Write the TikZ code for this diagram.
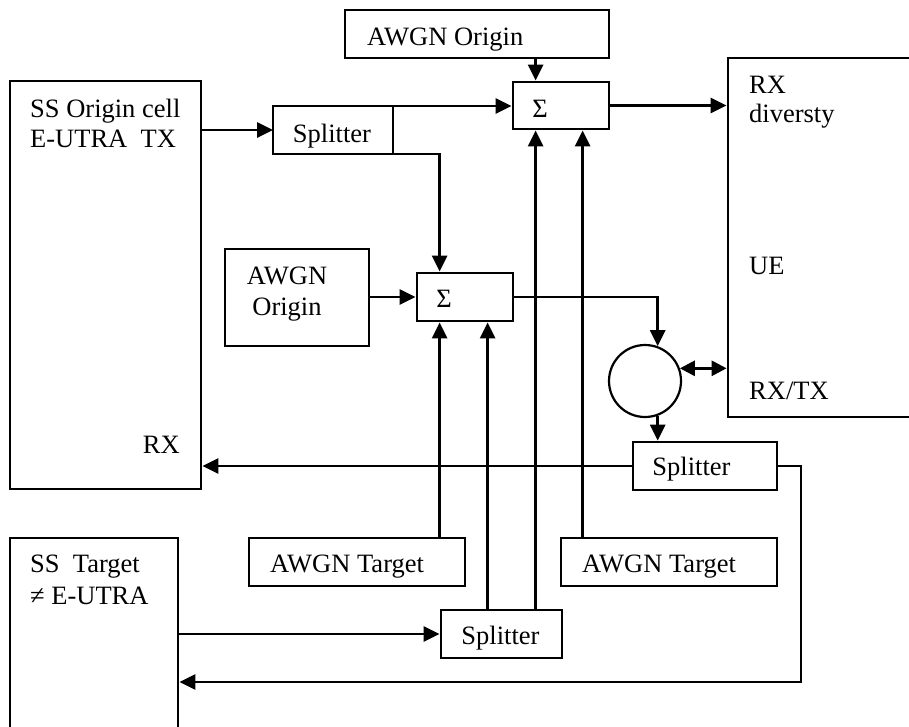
\documentclass[tikz,border=0pt]{standalone}
\usepackage{fontspec}
\setmainfont{Liberation Serif}
\usetikzlibrary{arrows.meta,calc}
\begin{document}
\begin{tikzpicture}[x=1pt,y=-1pt,
  box/.style={draw,line width=2.8pt,inner sep=0pt},
  lbl/.style={inner sep=0pt,font=\fontsize{26.5pt}{30pt}\selectfont},
  arr/.style={line width=2.8pt,-{Triangle[length=16pt,width=15pt]}},
  biarr/.style={line width=2.8pt,{Triangle[length=15pt,width=15pt]}-{Triangle[length=15pt,width=15pt]}}]
\useasboundingbox (0,0) rectangle (909,726);
\clip (0,0) rectangle (909,726);
% boxes
\node[box,minimum width=191pt,minimum height=408pt] (orig) at (105.5,285) {};
\node[box,outer sep=0pt,minimum width=120pt,minimum height=48pt] (split1) at (333,130) {};
\node[box,minimum width=264pt,minimum height=48pt] (awgnTop) at (477,34) {};
\node[box,minimum width=96pt,minimum height=47pt] (sum1) at (561,105.5) {};
\node[box,minimum width=202pt,minimum height=359pt] (ue) at (829,237.5) {};
\node[box,minimum width=144pt,minimum height=97pt] (awgn2) at (297,297.5) {};
\node[box,minimum width=96pt,minimum height=48pt] (sum2) at (465,297) {};
\node[draw,circle,line width=2.2pt,minimum size=72pt,inner sep=0pt] (circ) at (645,381) {};
\node[box,minimum width=144pt,minimum height=48pt] (split2) at (705,466) {};
\node[box,minimum width=216pt,minimum height=48pt] (awgnT1) at (357,562) {};
\node[box,minimum width=216pt,minimum height=48pt] (awgnT2) at (669,562) {};
\node[box,minimum width=121pt,minimum height=48pt] (split3) at (501.5,634) {};
\node[box,minimum width=168pt,minimum height=222pt] (tgt) at (94,649) {};
% texts
\node[lbl,anchor=base west] (t1) at (30,117) {SS Origin cell};
\node[lbl,anchor=base west] (t2) at (30,147) {E-UTRA\ \ TX};
\node[lbl,anchor=base east] (t3) at (180,453) {RX};
\node[lbl,anchor=base] (t4) at (332,142) {Splitter};
\node[lbl,anchor=base west] (t5) at (367,45) {AWGN Origin};
\node[lbl,anchor=base] (t6) at (540,117) {Σ};
\node[lbl,anchor=base west] (t7) at (749,93) {RX};
\node[lbl,anchor=base west] (t8) at (749,122) {diversty};
\node[lbl,anchor=base west] (t9) at (749,274) {UE};
\node[lbl,anchor=base west] (t10) at (749,399) {RX/TX};
\node[lbl,anchor=base] (t11) at (287,284) {AWGN};
\node[lbl,anchor=base] (t12) at (287,315) {Origin};
\node[lbl,anchor=base] (t13) at (444,307) {Σ};
\node[lbl,anchor=base] (t14) at (691.5,475) {Splitter};
\node[lbl,anchor=base west] (t15) at (270,572) {AWGN Target};
\node[lbl,anchor=base west] (t16) at (582,572) {AWGN Target};
\node[lbl,anchor=base] (t17) at (500.5,644) {Splitter};
\node[lbl,anchor=base west] (t18) at (30,572) {SS\ \ Target};
\node[lbl,anchor=base west] (t19) at (30,604) {≠ E-UTRA};
% connectors
\draw[arr] (orig.east |- split1.west) -- (split1.west);
\draw[arr] (split1.north east) -- (sum1.west |- split1.north east);
\draw[arr] (split1.south east) -| ([xshift=24pt]sum2.north west);
\draw[arr] ([xshift=24pt]sum1.north west |- awgnTop.south) -- ([xshift=24pt]sum1.north west);
\draw[arr] (sum1.east) -- (ue.west |- sum1.east);
\draw[arr] (awgn2.east |- sum2.west) -- (sum2.west);
\draw[arr] (sum2.east) -| (circ.70);
\draw[biarr] (circ.20) -- (ue.west |- circ.20);
\draw[arr] (circ.-70) -- (circ.-70 |- split2.north);
\draw[arr] (split2.west) -- (orig.east |- split2.west);
\coordinate (loop) at (801,682);
\draw[arr] (split2.east) -| (loop) -- (tgt.east |- loop);
\draw[arr] (tgt.east |- split3.west) -- (split3.west);
\draw[arr] ([xshift=24pt]sum2.south west |- awgnT1.north) -- ([xshift=24pt]sum2.south west);
\draw[arr] ([xshift=72pt]sum2.south west |- split3.north) -- ([xshift=72pt]sum2.south west);
\draw[arr] ([xshift=24pt]sum1.south west |- split3.north) -- ([xshift=24pt]sum1.south west);
\draw[arr] ([xshift=71pt]sum1.south west |- awgnT2.north) -- ([xshift=71pt]sum1.south west);
\end{tikzpicture}
\end{document}
